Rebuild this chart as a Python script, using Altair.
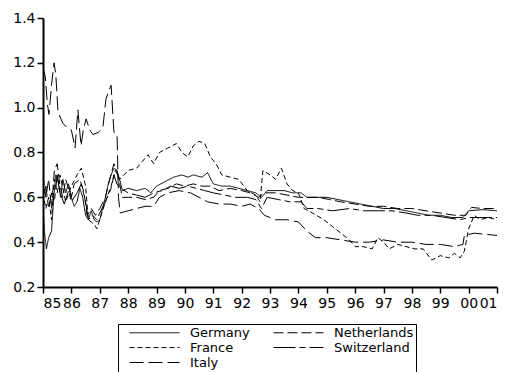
import altair as alt
import pandas as pd

# Year positions (85 = 1985, 100 = 2000) and values for each country
germany_t = [85.0, 85.05, 85.12, 85.2, 85.3, 85.38, 85.45, 85.55, 85.62, 85.7, 85.8, 85.9,
             86.0, 86.1, 86.2, 86.3, 86.4, 86.5, 86.6, 86.7, 86.8, 86.9, 87.0, 87.1, 87.2,
             87.3, 87.4, 87.5, 87.6, 87.7, 87.8, 88.0, 88.3, 88.6, 88.8, 89.0, 89.3, 89.6,
             89.9, 90.1, 90.3, 90.6, 90.8, 91.0, 91.3, 91.6, 91.9, 92.2, 92.5, 92.7, 92.9,
             93.2, 93.5, 93.8, 94.1, 94.3, 94.6, 95.0, 95.4, 95.8, 96.2, 96.6, 97.0, 97.4,
             97.8, 98.2, 98.6, 99.0, 99.4, 99.8, 100.0, 100.5, 101.0]
germany_v = [0.55, 0.45, 0.37, 0.42, 0.45, 0.60, 0.70, 0.66, 0.60, 0.68, 0.62, 0.66,
             0.60, 0.56, 0.58, 0.64, 0.60, 0.52, 0.50, 0.54, 0.50, 0.49, 0.50, 0.55, 0.60,
             0.66, 0.70, 0.73, 0.72, 0.68, 0.63, 0.64, 0.63, 0.64, 0.62, 0.65, 0.67, 0.69,
             0.70, 0.69, 0.70, 0.69, 0.71, 0.66, 0.65, 0.65, 0.64, 0.63, 0.62, 0.60, 0.63,
             0.63, 0.63, 0.62, 0.62, 0.60, 0.60, 0.60, 0.59, 0.58, 0.57, 0.56, 0.55, 0.55,
             0.54, 0.53, 0.52, 0.52, 0.51, 0.51, 0.54, 0.545, 0.54]

france_t = [85.0, 85.1, 85.2, 85.3, 85.4, 85.5, 85.6, 85.8, 86.0, 86.2, 86.35, 86.5, 86.6,
            86.8, 86.9, 87.0, 87.2, 87.4, 87.55, 87.7, 87.85, 88.0, 88.3, 88.5, 88.7, 88.9,
            89.1, 89.4, 89.7, 89.9, 90.1, 90.3, 90.5, 90.7, 90.9, 91.1, 91.3, 91.6, 91.9,
            92.2, 92.5, 92.65, 92.75, 93.0, 93.2, 93.4, 93.6, 93.8, 94.0, 94.2, 94.5, 94.9,
            95.2, 95.5, 95.8, 96.0, 96.3, 96.6, 96.8, 97.0, 97.2, 97.5, 97.8, 98.1, 98.4,
            98.7, 99.0, 99.3, 99.5, 99.7, 99.85, 100.0, 100.2, 100.4, 100.7, 101.0]
france_v = [0.62, 0.55, 0.60, 0.50, 0.68, 0.62, 0.70, 0.58, 0.65, 0.70, 0.73, 0.65, 0.50,
            0.48, 0.46, 0.50, 0.58, 0.65, 0.72, 0.68, 0.70, 0.72, 0.73, 0.76, 0.79, 0.75,
            0.80, 0.82, 0.84, 0.80, 0.78, 0.83, 0.85, 0.84, 0.78, 0.75, 0.70, 0.69, 0.68,
            0.63, 0.61, 0.58, 0.72, 0.70, 0.68, 0.73, 0.66, 0.63, 0.62, 0.55, 0.53, 0.50,
            0.47, 0.44, 0.41, 0.38, 0.38, 0.37, 0.42, 0.40, 0.37, 0.39, 0.38, 0.37, 0.37,
            0.32, 0.34, 0.33, 0.35, 0.33, 0.36, 0.46, 0.52, 0.50, 0.51, 0.50]

italy_t = [85.0, 85.08, 85.15, 85.21, 85.3, 85.39, 85.45, 85.53, 85.7, 85.85, 86.0, 86.13,
           86.23, 86.34, 86.42, 86.52, 86.65, 86.76, 86.95, 87.11, 87.22, 87.4, 87.5, 87.61,
           87.66, 87.72, 88.0, 88.3, 88.6, 88.9, 89.1, 89.4, 89.8, 90.2, 90.5, 90.8, 91.2,
           91.6, 92.0, 92.3, 92.6, 92.8, 93.2, 93.6, 94.0, 94.3, 94.6, 95.0, 95.5, 96.0,
           96.5, 97.0, 97.5, 98.0, 98.5, 99.0, 99.5, 99.8, 99.85, 100.2, 101.0]
italy_v = [1.18, 1.14, 1.02, 0.97, 1.10, 1.20, 1.15, 0.98, 0.93, 0.91, 0.90, 0.82,
           0.99, 0.83, 0.90, 0.95, 0.90, 0.88, 0.89, 0.91, 1.04, 1.10, 0.89, 0.88,
           0.60, 0.53, 0.54, 0.55, 0.56, 0.56, 0.60, 0.62, 0.63, 0.62, 0.60, 0.58, 0.57,
           0.57, 0.56, 0.57, 0.55, 0.52, 0.50, 0.50, 0.49, 0.45, 0.42, 0.42, 0.41, 0.40,
           0.40, 0.41, 0.40, 0.40, 0.39, 0.39, 0.38, 0.39, 0.43, 0.44, 0.43]

netherlands_t = [85.0, 85.1, 85.2, 85.3, 85.4, 85.5, 85.6, 85.7, 85.8, 86.0, 86.1, 86.3,
                 86.45, 86.55, 86.7, 86.85, 87.0, 87.2, 87.35, 87.5, 87.6, 87.8, 88.0, 88.3,
                 88.6, 88.9, 89.1, 89.4, 89.7, 90.0, 90.3, 90.6, 90.9, 91.2, 91.6, 92.0, 92.3,
                 92.6, 92.8, 93.2, 93.6, 94.0, 94.3, 94.7, 95.1, 95.5, 96.0, 96.5, 97.0, 97.5,
                 98.0, 98.5, 99.0, 99.5, 99.9, 100.1, 100.5, 101.0]
netherlands_v = [0.70, 0.60, 0.68, 0.55, 0.72, 0.75, 0.65, 0.60, 0.68, 0.60, 0.66, 0.68,
                 0.62, 0.52, 0.55, 0.52, 0.55, 0.60, 0.68, 0.75, 0.72, 0.60, 0.60, 0.60,
                 0.59, 0.60, 0.63, 0.64, 0.66, 0.65, 0.66, 0.65, 0.65, 0.63, 0.64, 0.63, 0.62,
                 0.60, 0.62, 0.62, 0.61, 0.60, 0.60, 0.60, 0.59, 0.58, 0.57, 0.56, 0.56, 0.55,
                 0.55, 0.54, 0.53, 0.52, 0.52, 0.555, 0.55, 0.55]

switzerland_t = [85.0, 85.1, 85.2, 85.3, 85.4, 85.5, 85.6, 85.75, 85.9, 86.0, 86.2, 86.35,
                 86.5, 86.6, 86.75, 86.9, 87.0, 87.2, 87.4, 87.5, 87.6, 87.75, 88.0, 88.3,
                 88.6, 88.9, 89.2, 89.5, 89.8, 90.1, 90.4, 90.7, 91.0, 91.4, 91.8, 92.2, 92.5,
                 92.7, 92.9, 93.3, 93.7, 94.1, 94.3, 94.7, 95.2, 95.8, 96.3, 96.8, 97.3, 97.8,
                 98.2, 98.7, 99.2, 99.7, 100.0, 100.5, 101.0]
switzerland_v = [0.60, 0.65, 0.55, 0.62, 0.58, 0.70, 0.62, 0.57, 0.63, 0.58, 0.62, 0.66,
                 0.58, 0.50, 0.52, 0.50, 0.53, 0.58, 0.64, 0.70, 0.66, 0.64, 0.62, 0.61,
                 0.60, 0.62, 0.63, 0.65, 0.64, 0.65, 0.64, 0.63, 0.62, 0.61, 0.60, 0.60, 0.59,
                 0.55, 0.60, 0.59, 0.58, 0.58, 0.55, 0.55, 0.54, 0.55, 0.54, 0.54, 0.54, 0.53,
                 0.52, 0.52, 0.51, 0.50, 0.51, 0.51, 0.51]

series = {
    "Germany": (germany_t, germany_v),
    "France": (france_t, france_v),
    "Italy": (italy_t, italy_v),
    "Netherlands": (netherlands_t, netherlands_v),
    "Switzerland": (switzerland_t, switzerland_v),
}

rows = []
for name, (ts, vs) in series.items():
    for t, v in zip(ts, vs):
        rows.append({"country": name, "t": t, "v": v})
df = pd.DataFrame(rows)

# Legend fills column by column: Germany/France/Italy, then Netherlands/Switzerland
legend_order = ["Germany", "France", "Italy", "Netherlands", "Switzerland"]
dash_styles = [[1, 0], [5, 3], [14, 5], [10, 4], [22, 4, 6, 4]]

FONT = "DejaVu Sans"

chart = (
    alt.Chart(df)
    .mark_line(color="black", strokeWidth=1, clip=True)
    .encode(
        x=alt.X(
            "t:Q",
            scale=alt.Scale(domain=[85, 101], nice=False, zero=False),
            axis=alt.Axis(
                values=list(range(85, 102)),
                labelExpr="datum.value >= 100 ? '0' + (datum.value - 100) : '' + datum.value",
                title=None,
                grid=False,
                labelPadding=3,
            ),
        ),
        y=alt.Y(
            "v:Q",
            scale=alt.Scale(domain=[0.2, 1.4], nice=False, zero=False),
            axis=alt.Axis(
                values=[0.2, 0.4, 0.6, 0.8, 1.0, 1.2, 1.4],
                format=".1f",
                title=None,
                grid=False,
                labelPadding=2,
            ),
        ),
        strokeDash=alt.StrokeDash(
            "country:N",
            scale=alt.Scale(domain=legend_order, range=dash_styles),
            legend=alt.Legend(
                title=None,
                orient="none",
                legendX=75,
                legendY=306,
                columns=2,
                direction="vertical",
                # a wide horizontal stroke inside a small symbol box keeps rows compact
                symbolType="M-5,0H5",
                symbolSize=100,
                symbolOffset=28,
                symbolStrokeWidth=1,
                symbolStrokeColor="black",
                symbolFillColor="transparent",
                labelFont=FONT,
                labelFontSize=13,
                labelColor="black",
                strokeColor="black",
                padding=2,
                rowPadding=1,
                columnPadding=14,
                labelOffset=29,
            ),
        ),
    )
    .properties(
        width=454,
        height=269,
        autosize=alt.AutoSizeParams(type="none"),
        padding={"left": 43, "top": 18, "right": 10, "bottom": 85},
    )
    .configure_view(stroke=None)
    .configure_axis(
        domainColor="black",
        domainWidth=2,
        tickColor="black",
        tickWidth=1.5,
        tickSize=6,
        labelFont=FONT,
        labelFontSize=14,
        labelColor="black",
    )
)

chart.save("out.html", embed_options={"renderer": "svg", "actions": False})
